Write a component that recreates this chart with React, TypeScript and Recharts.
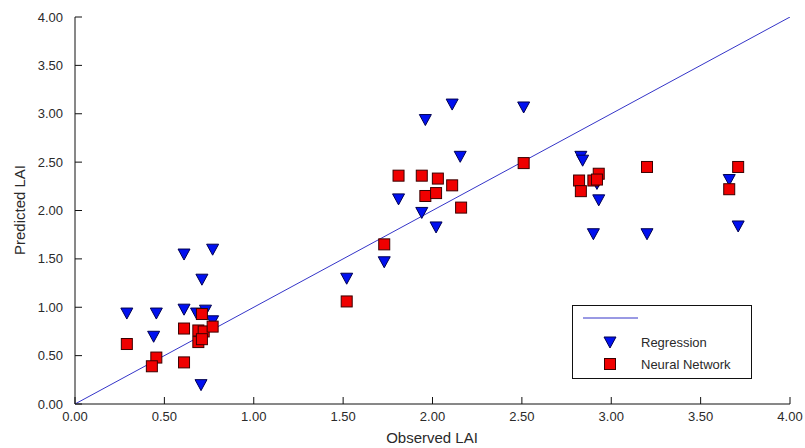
import React from 'react';
import { ScatterChart, Scatter, XAxis, YAxis } from 'recharts';

const axisTicks = [0, 0.5, 1, 1.5, 2, 2.5, 3, 3.5, 4];

const regressionObserved = [0.29, 0.455, 0.44, 0.61, 0.61, 0.77, 0.71, 0.68, 0.73, 0.705, 0.77, 1.52, 1.73, 1.81, 1.94, 2.02, 1.96, 2.11, 2.155, 2.51, 2.83, 2.84, 2.92, 2.93, 2.9, 3.2, 3.66, 3.71];
const regressionPredicted = [0.94, 0.94, 0.7, 0.98, 1.55, 1.6, 1.29, 0.94, 0.97, 0.2, 0.86, 1.3, 1.47, 2.12, 1.98, 1.83, 2.94, 3.1, 2.56, 3.07, 2.56, 2.52, 2.28, 2.11, 1.76, 1.76, 2.32, 1.84];

const networkObserved = [0.29, 0.455, 0.43, 0.61, 0.61, 0.71, 0.69, 0.72, 0.69, 0.71, 0.77, 1.52, 1.73, 1.81, 1.94, 2.03, 2.11, 1.96, 2.02, 2.16, 2.51, 2.82, 2.83, 2.9, 2.93, 2.92, 3.2, 3.66, 3.71];
const networkPredicted = [0.62, 0.48, 0.39, 0.43, 0.78, 0.93, 0.76, 0.75, 0.64, 0.67, 0.8, 1.06, 1.65, 2.36, 2.36, 2.33, 2.26, 2.15, 2.18, 2.03, 2.49, 2.31, 2.2, 2.31, 2.38, 2.32, 2.45, 2.22, 2.45];

const diagonalEnds = [0, 4];

const regression = regressionObserved.map((x, i) => ({ x, y: regressionPredicted[i] }));
const network = networkObserved.map((x, i) => ({ x, y: networkPredicted[i] }));
const diagonal = diagonalEnds.map(v => ({ x: v, y: v }));

const FONT = '"Liberation Sans", Arial, sans-serif';
const TEXT = '#2a2a2a';
const FRAME = '#111';
const LINE = '#3535c8';

const Triangle = ({ cx, cy }: any) => (
  <polygon
    points={`${cx - 6},${cy - 5} ${cx + 6},${cy - 5} ${cx},${cy + 6}`}
    fill="#0010f0"
    stroke="#000050"
    strokeWidth={1}
  />
);

const Square = ({ cx, cy }: any) => (
  <rect x={cx - 5.5} y={cy - 5.5} width={11} height={11} fill="#f00000" stroke="#3a0000" strokeWidth={1} />
);

const NoDot = () => <g />;

const BottomTick = ({ x, y, payload }: any) => (
  <g>
    <line x1={x} y1={y} x2={x} y2={y - 7} stroke={FRAME} />
    <text x={x} y={y + 17} textAnchor="middle" fontSize={13} fill={TEXT} fontFamily={FONT}>
      {payload.value.toFixed(2)}
    </text>
  </g>
);

const LeftTick = ({ x, y, payload }: any) => (
  <g>
    <line x1={x} y1={y} x2={x + 7} y2={y} stroke={FRAME} />
    <text x={x - 12} y={y + 4.5} textAnchor="end" fontSize={13} fill={TEXT} fontFamily={FONT}>
      {payload.value.toFixed(2)}
    </text>
  </g>
);

const TopTick = ({ x, y }: any) => <line x1={x} y1={y} x2={x} y2={y + 7} stroke={FRAME} />;
const RightTick = ({ x, y }: any) => <line x1={x} y1={y} x2={x - 7} y2={y} stroke={FRAME} />;

export default function App() {
  return (
    <div style={{ position: 'absolute', left: 0, top: 0, width: 805, height: 448, background: '#fff' }}>
      <ScatterChart width={805} height={448} margin={{ top: 17, right: 15, bottom: 0, left: 0 }}>
        <XAxis
          dataKey="x"
          type="number"
          domain={[0, 4]}
          ticks={axisTicks}
          allowDataOverflow
          height={44}
          tickSize={0}
          tickMargin={0}
          tickLine={false}
          tick={BottomTick}
          axisLine={{ stroke: FRAME }}
        />
        <XAxis
          xAxisId="top"
          orientation="top"
          type="number"
          domain={[0, 4]}
          ticks={axisTicks}
          allowDataOverflow
          height={0}
          tickSize={0}
          tickMargin={0}
          tickLine={false}
          tick={TopTick}
          axisLine={{ stroke: FRAME }}
        />
        <YAxis
          dataKey="y"
          type="number"
          domain={[0, 4]}
          ticks={axisTicks}
          allowDataOverflow
          width={75}
          tickSize={0}
          tickMargin={0}
          tickLine={false}
          tick={LeftTick}
          axisLine={{ stroke: FRAME }}
        />
        <YAxis
          yAxisId="right"
          orientation="right"
          type="number"
          domain={[0, 4]}
          ticks={axisTicks}
          allowDataOverflow
          width={0}
          tickSize={0}
          tickMargin={0}
          tickLine={false}
          tick={RightTick}
          axisLine={{ stroke: FRAME }}
        />
        <Scatter data={diagonal} line={{ stroke: LINE, strokeWidth: 1 }} shape={NoDot} isAnimationActive={false} />
        <Scatter name="Regression" data={regression} shape={Triangle} isAnimationActive={false} />
        <Scatter name="Neural Network" data={network} shape={Square} isAnimationActive={false} />
      </ScatterChart>
      <svg width={805} height={448} style={{ position: 'absolute', left: 0, top: 0, pointerEvents: 'none' }}>
        <text x={432} y={443} textAnchor="middle" fontSize={15} fill={TEXT} fontFamily={FONT}>Observed LAI</text>
        <text
          x={25}
          y={210}
          textAnchor="middle"
          fontSize={15}
          fill={TEXT}
          fontFamily={FONT}
          transform="rotate(-90 25 210)"
        >
          Predicted LAI
        </text>
        <g transform="translate(572 305)">
          <rect x={0.5} y={0.5} width={179} height={73} fill="#fff" stroke={FRAME} />
          <line x1={11} y1={13} x2={66} y2={13} stroke={LINE} strokeWidth={1} />
          <Triangle cx={38} cy={37} />
          <Square cx={38} cy={59} />
          <text x={69} y={42} fontSize={13} fill={TEXT} fontFamily={FONT}>Regression</text>
          <text x={69} y={64} fontSize={13} fill={TEXT} fontFamily={FONT}>Neural Network</text>
        </g>
      </svg>
    </div>
  );
}
